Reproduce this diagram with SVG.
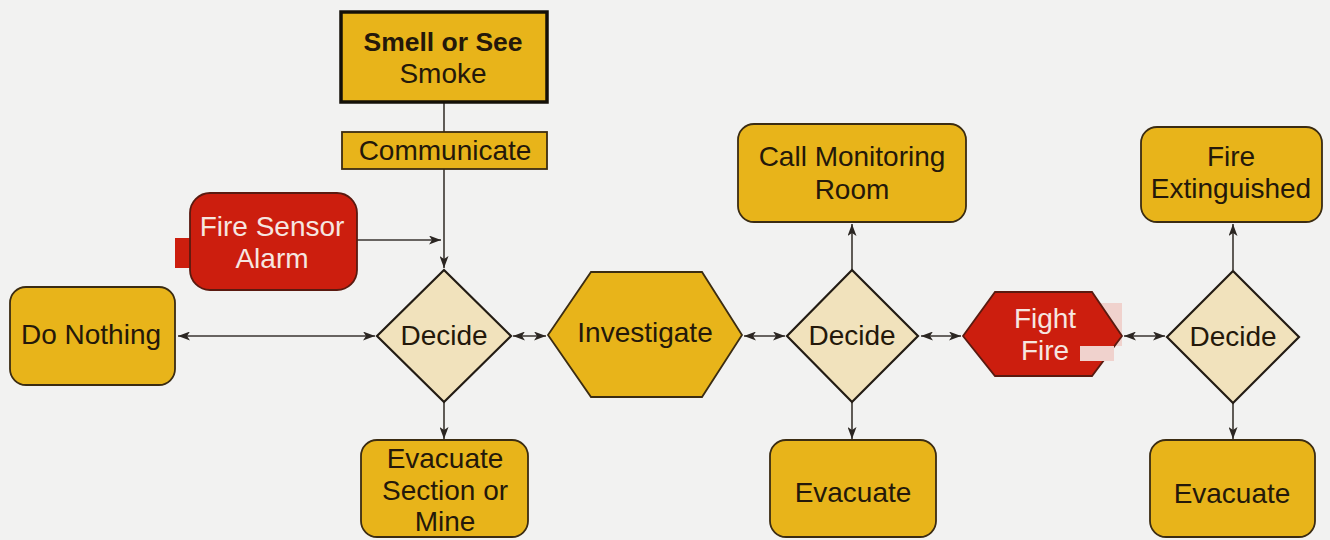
<svg xmlns="http://www.w3.org/2000/svg" width="1330" height="540" viewBox="0 0 1330 540">
<defs>
<marker id="ah" viewBox="0 0 12 9" refX="12" refY="4.5" markerWidth="12" markerHeight="9" markerUnits="userSpaceOnUse" orient="auto-start-reverse">
<path d="M0,0 L12,4.5 L0,9 L3,4.5 Z" fill="#2b2622"/>
</marker>
<style>
.y{fill:#e8b41a;stroke:#3b2c12;stroke-width:1.8}
.d{fill:#f1e2bc;stroke:#231c14;stroke-width:2.2}
.r{fill:#cc1e0e;stroke:#5a1a10;stroke-width:1.8}
.t{font-family:"Liberation Sans",Arial,sans-serif;font-size:28px;fill:#24180a;text-anchor:middle}
.b{font-weight:bold;font-size:26.5px}
.wt{fill:#f6e6e0}
.c line{stroke:#3a3530;stroke-width:1.6;fill:none}
</style>
</defs>
<rect width="1330" height="540" fill="#f2f2f1"/>
<g class="c" id="connectors">
<line x1="444" y1="102" x2="444" y2="132"/>
<line x1="444" y1="169" x2="444" y2="268" marker-end="url(#ah)"/>
<line x1="357" y1="240" x2="441" y2="240" marker-end="url(#ah)"/>
<line x1="178" y1="336" x2="375" y2="336" marker-start="url(#ah)" marker-end="url(#ah)"/>
<line x1="444" y1="402" x2="444" y2="439" marker-end="url(#ah)"/>
<line x1="513" y1="336" x2="546" y2="336" marker-start="url(#ah)" marker-end="url(#ah)"/>
<line x1="744" y1="336" x2="785" y2="336" marker-start="url(#ah)" marker-end="url(#ah)"/>
<line x1="852" y1="270" x2="852" y2="224" marker-end="url(#ah)"/>
<line x1="852" y1="402" x2="852" y2="439" marker-end="url(#ah)"/>
<line x1="921" y1="336" x2="961" y2="336" marker-start="url(#ah)" marker-end="url(#ah)"/>
<line x1="1124" y1="336" x2="1165" y2="336" marker-start="url(#ah)" marker-end="url(#ah)"/>
<line x1="1233" y1="270" x2="1233" y2="224" marker-end="url(#ah)"/>
<line x1="1233" y1="402" x2="1233" y2="439" marker-end="url(#ah)"/>
</g>
<g id="smell">
<rect x="341" y="12" width="206" height="90" fill="#e8b41a" stroke="#141008" stroke-width="3.5"/>
<text class="t b" x="443" y="51">Smell or See</text>
<text class="t" x="443" y="83">Smoke</text>
</g>
<g id="communicate">
<rect class="y" x="342" y="132" width="205" height="37"/>
<text class="t" x="445" y="160">Communicate</text>
</g>
<g id="sensor">
<rect x="175" y="238" width="60" height="30" fill="#cc1e0e"/>
<rect class="r" x="190" y="193" width="167" height="97" rx="20"/>
<text class="t wt" x="272" y="236">Fire Sensor</text>
<text class="t wt" x="272" y="268">Alarm</text>
</g>
<g id="donothing">
<rect class="y" x="10" y="287" width="165" height="98" rx="16"/>
<text class="t" x="91" y="344">Do Nothing</text>
</g>
<g id="decide1">
<polygon class="d" points="444,270 511,336 444,402 377,336"/>
<text class="t" x="444" y="345">Decide</text>
</g>
<g id="evac1">
<rect class="y" x="361" y="440" width="167" height="97" rx="16"/>
<text class="t" x="445" y="468">Evacuate</text>
<text class="t" x="445" y="500">Section or</text>
<text class="t" x="445" y="531">Mine</text>
</g>
<g id="investigate">
<polygon class="y" points="548,335 591,272 702,272 742,335 702,397 591,397"/>
<text class="t" x="645" y="342">Investigate</text>
</g>
<g id="decide2">
<polygon class="d" points="852,270 918,336 852,402 787,336"/>
<text class="t" x="852" y="345">Decide</text>
</g>
<g id="callroom">
<rect class="y" x="738" y="124" width="228" height="98" rx="16"/>
<text class="t" x="852" y="166">Call Monitoring</text>
<text class="t" x="852" y="199">Room</text>
</g>
<g id="evac2">
<rect class="y" x="770" y="440" width="166" height="97" rx="16"/>
<text class="t" x="853" y="502">Evacuate</text>
</g>
<g id="fight">
<rect x="1098" y="303" width="24" height="43" fill="#f0d2cd"/>
<polygon class="r" points="963,336 995,292 1092,292 1122,336 1092,376 995,376"/>
<rect x="1080" y="346" width="34" height="15" fill="#f0d2cd"/>
<text class="t wt" x="1045" y="328">Fight</text>
<text class="t wt" x="1045" y="360">Fire</text>
</g>
<g id="decide3">
<polygon class="d" points="1233,271 1299,337 1233,403 1167,337"/>
<text class="t" x="1233" y="346">Decide</text>
</g>
<g id="extinguished">
<rect class="y" x="1141" y="127" width="181" height="95" rx="16"/>
<text class="t" x="1231" y="166">Fire</text>
<text class="t" x="1231" y="198">Extinguished</text>
</g>
<g id="evac3">
<rect class="y" x="1150" y="440" width="165" height="97" rx="16"/>
<text class="t" x="1232" y="503">Evacuate</text>
</g>
</svg>
